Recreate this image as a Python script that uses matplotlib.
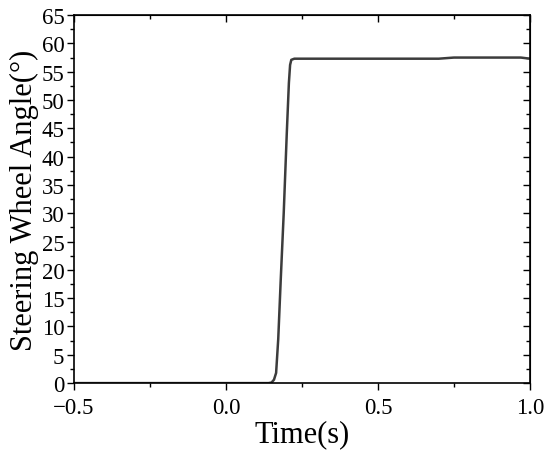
import matplotlib.pyplot as plt
from matplotlib.ticker import MultipleLocator

# Steering wheel step input
time_s = [-0.5, 0.14, 0.15, 0.158, 0.165, 0.172, 0.18, 0.19, 0.20, 0.207,
          0.211, 0.215, 0.225, 0.5, 0.7, 0.75, 0.9, 0.97, 1.0]
angle_deg = [0, 0, 0.1, 0.6, 1.8, 7.8, 18, 30, 44, 53,
             56.2, 57.1, 57.3, 57.3, 57.3, 57.5, 57.5, 57.5, 57.3]

plt.rcParams['font.family'] = ['Liberation Serif', 'DejaVu Serif']

fig = plt.figure(figsize=(5.5, 4.6), dpi=100)
ax = fig.add_axes([0.1345, 0.165, 0.829, 0.8])

ax.plot(time_s, angle_deg, color='#3c3c3c', lw=1.8)

ax.set_xlim(-0.5, 1.0)
ax.set_ylim(0, 65)
ax.xaxis.set_major_locator(MultipleLocator(0.5))
ax.xaxis.set_minor_locator(MultipleLocator(0.25))
ax.yaxis.set_major_locator(MultipleLocator(5))
ax.yaxis.set_minor_locator(MultipleLocator(2.5))
ax.tick_params(which='major', direction='out', length=5, width=1, labelsize=16.5, colors='black', pad=2)
ax.tick_params(which='minor', direction='out', length=3, width=1)
ax.tick_params(axis='x', which='major', pad=5)
ax.xaxis.set_major_formatter(plt.FuncFormatter(lambda v, p: f"{v:.1f}".replace('-', '\u2212')))

# mirrored ticks on top/right pointing inward
top = ax.secondary_xaxis('top')
top.xaxis.set_major_locator(MultipleLocator(0.5))
top.xaxis.set_minor_locator(MultipleLocator(0.25))
top.tick_params(which='major', direction='in', length=5, width=1, labeltop=False)
top.tick_params(which='minor', direction='in', length=3, width=1)
right = ax.secondary_yaxis('right')
right.yaxis.set_major_locator(MultipleLocator(5))
right.yaxis.set_minor_locator(MultipleLocator(2.5))
right.tick_params(which='major', direction='in', length=5, width=1, labelright=False)
right.tick_params(which='minor', direction='in', length=3, width=1)

for s in ax.spines.values():
    s.set_linewidth(1.2)

ax.set_xlabel("Time(s)", fontsize=22, labelpad=1)
ax.set_ylabel("Steering Wheel Angle(°)", fontsize=22, labelpad=2)

fig.savefig("out.png", dpi=100)
